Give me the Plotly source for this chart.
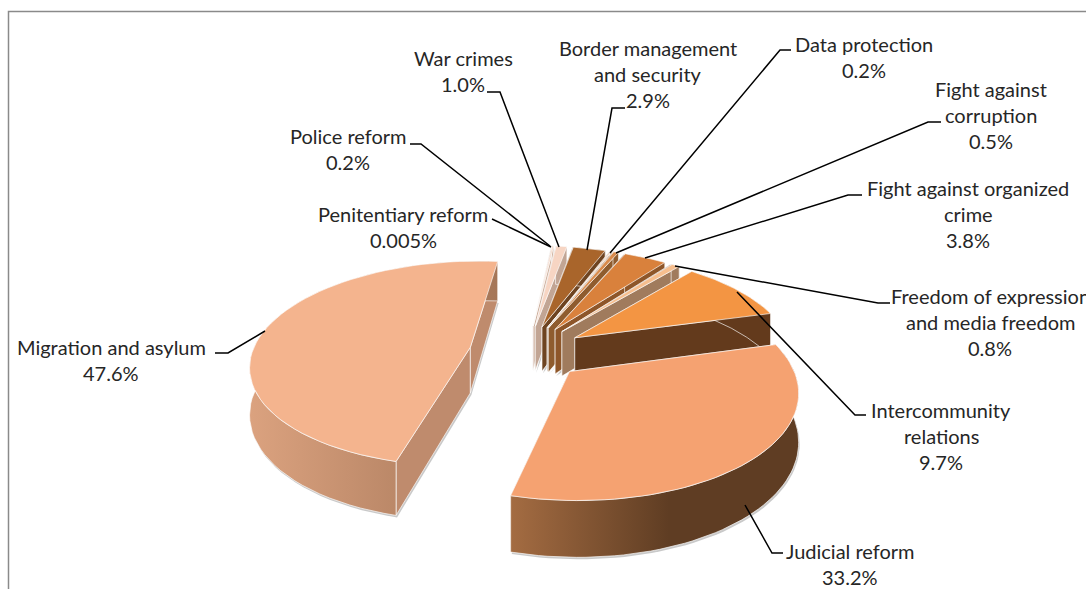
import numpy as np
import plotly.graph_objects as go

# ---- data (clockwise from the start of the first slice) ----
categories = ["Migration and asylum", "Penitentiary reform", "Police reform", "War crimes",
              "Border management and security", "Data protection", "Fight against corruption",
              "Fight against organized crime", "Freedom of expression and media freedom",
              "Intercommunity relations", "Judicial reform"]
values = [47.6, 0.005, 0.2, 1.0, 2.9, 0.2, 0.5, 3.8, 0.8, 9.7, 33.2]
value_labels = ["47.6%", "0.005%", "0.2%", "1.0%", "2.9%", "0.2%", "0.5%", "3.8%", "0.8%", "9.7%", "33.2%"]
top_colors = ["#F4B48E", "#F8D9CB", "#F6D3C0", "#F7D5C3", "#A9652B", "#F3CDB0", "#D98B4C",
              "#D9813C", "#F6BE8E", "#F39543", "#F5A271"]
wall_colors = ["#BF8B6D", "#C9B2A6", "#CDB09E", "#C2A594", "#6E4421", "#B79A83", "#8F5C2E",
               "#8E5629", "#A07B5D", "#633A1C", "#7B4C2A"]
wall_grad_left = ["#DBA27F", "#C9B2A6", "#CDB09E", "#C2A594", "#6E4421", "#B79A83", "#8F5C2E",
                  "#8E5629", "#A07B5D", "#633A1C", "#A46C42"]
wall_grad_right = ["#A57658", "#C9B2A6", "#CDB09E", "#C2A594", "#6E4421", "#B79A83", "#8F5C2E",
                   "#8E5629", "#A07B5D", "#633A1C", "#5F3D23"]
wall_grad_stop = [1, 1, 1, 1, 1, 1, 1, 1, 1, 1, 0.55]

# label text, centre x, first-line y
label_lines = [
    (["Migration and asylum", "47.6%"], 111, 347),
    (["Penitentiary reform", "0.005%"], 403, 214),
    (["Police reform", "0.2%"], 348, 136),
    (["War crimes", "1.0%"], 463, 58),
    (["Border management", "and security", "2.9%"], 648, 48),
    (["Data protection", "0.2%"], 864, 44),
    (["Fight against", "corruption", "0.5%"], 991, 89),
    (["Fight against organized", "crime", "3.8%"], 968, 188),
    (["Freedom of expression", "and media freedom", "0.8%"], 990, 296),
    (["Intercommunity", "relations", "9.7%"], 941, 410),
    (["Judicial reform", "33.2%"], 850, 551),
]
leaders = [
    [(215, 353), (228, 353), (265, 331)],
    [(492, 219), (551, 247)],
    [(410, 144), (421, 144), (550, 246)],
    [(487, 92), (500, 92), (559, 247)],
    [(625, 108), (612, 108), (587, 250)],
    [(791, 50), (780, 50), (610, 253)],
    [(941, 122), (928, 122), (616, 253)],
    [(862, 195), (848, 195), (645, 258)],
    [(890, 303), (878, 303), (675, 266)],
    [(866, 415), (855, 415), (737, 292)],
    [(783, 553), (772, 553), (745, 505)],
]

# ---- pie geometry ----
CX, CY = 527, 352
R = 218
TILT = 0.465
PERSP = 0.16
DEPTH = 46
EXPLODE = 58
START_DEG = 194.5


def proj(X, Y, z=0.0):
    s = 1 / (1 + PERSP * Y / R)
    return CX + X * s, CY - TILT * Y * s + DEPTH * z * s


def arc(th1, th2, ox, oy, n=60):
    t = np.radians(np.linspace(th1, th2, n))
    return ox + R * np.sin(t), oy + R * np.cos(t)


fig = go.Figure()
total = sum(values)
angles = START_DEG + np.concatenate([[0], np.cumsum(values)]) * 360 / total
slices = []
for i in range(len(values)):
    a1, a2 = angles[i], angles[i + 1]
    mid = np.radians((a1 + a2) / 2)
    slices.append((np.cos(mid), i, a1, a2, mid))
slices.sort(key=lambda q: -q[0])


def poly(xs, ys, color, line="rgba(255,255,255,0.65)", name="", **kw):
    fig.add_trace(go.Scatter(x=list(xs) + [xs[0]], y=list(ys) + [ys[0]], mode="lines", fill="toself",
                             fillcolor=color, line=dict(color=line, width=1), hoverinfo="skip",
                             showlegend=False, name=name, **kw))


for _, i, a1, a2, mid in slices:
    ox, oy = EXPLODE * np.sin(mid), EXPLODE * np.cos(mid)
    ax, ay = arc(a1, a2, ox, oy)
    # soft shadow under the block
    sx1, sy1 = proj(ax, ay, 1.0)
    ptx, pty = proj(ox, oy, 1.0)
    poly(np.r_[ptx + 1, sx1 + 1], np.r_[pty + 2, sy1 + 2], "rgba(120,120,120,0.4)", line="rgba(0,0,0,0)")
    # radial walls
    for th in (a1, a2):
        ex, ey = arc(th, th, ox, oy, n=1)
        p0 = proj(ox, oy, 0.0)
        p1 = proj(ex[0], ey[0], 0.0)
        p2 = proj(ex[0], ey[0], 1.0)
        p3 = proj(ox, oy, 1.0)
        poly([p0[0], p1[0], p2[0], p3[0]], [p0[1], p1[1], p2[1], p3[1]], wall_colors[i])
    # outer wall
    tx, ty = proj(ax, ay, 0.0)
    bx, by = proj(ax, ay, 1.0)
    stop = wall_grad_stop[i]
    scale = [[0, wall_grad_left[i]], [stop, wall_grad_right[i]]]
    if stop < 1:
        scale.append([1, wall_grad_right[i]])
    poly(np.r_[tx, bx[::-1]], np.r_[ty, by[::-1]], wall_grad_left[i],
         fillgradient=dict(type="horizontal", colorscale=scale))
    # top face
    pcx, pcy = proj(ox, oy, 0.0)
    poly(np.r_[pcx, tx], np.r_[pcy, ty], top_colors[i], name=categories[i])

shapes = [dict(type="path", path="M 8.5 589 L 8.5 11.5 L 1086 11.5", line=dict(color="#8A8A8A", width=1.5), layer="above")]
for pts in leaders:
    path = "M " + " L ".join(f"{x} {y}" for x, y in pts)
    shapes.append(dict(type="path", path=path, line=dict(color="black", width=1.5), layer="above"))

annotations = []
for lines, x, y in label_lines:
    for j, txt in enumerate(lines):
        annotations.append(dict(x=x, y=y + j * 25.8, text=txt, showarrow=False, xanchor="center", yanchor="middle",
                                borderpad=0, font=dict(family="Lato", size=20, color="#262626")))

fig.update_layout(width=1086, height=589, margin=dict(l=0, r=0, t=0, b=0), paper_bgcolor="white",
                  plot_bgcolor="white", showlegend=False, shapes=shapes, annotations=annotations,
                  xaxis=dict(range=[0, 1086], visible=False, fixedrange=True),
                  yaxis=dict(range=[589, 0], visible=False, fixedrange=True))
fig.write_html("out.html", config=dict(displayModeBar=False),
               post_script="document.body.style.margin='0';document.body.style.overflow='hidden';")
